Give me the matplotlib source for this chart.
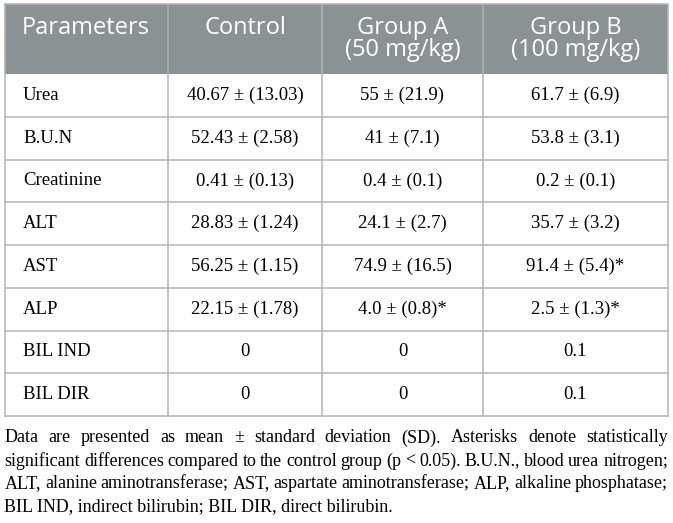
import matplotlib
matplotlib.use("Agg")
import matplotlib.pyplot as plt
from matplotlib.patches import Rectangle

# table content
headers = [["Parameters"], ["Control"], ["Group A", "(50 mg/kg)"], ["Group B", "(100 mg/kg)"]]
parameters = ["Urea", "B.U.N", "Creatinine", "ALT", "AST", "ALP", "BIL IND", "BIL DIR"]
control = ["40.67 ± (13.03)", "52.43 ± (2.58)", "0.41 ± (0.13)", "28.83 ± (1.24)",
           "56.25 ± (1.15)", "22.15 ± (1.78)", "0", "0"]
group_a = ["55 ± (21.9)", "41 ± (7.1)", "0.4 ± (0.1)", "24.1 ± (2.7)",
           "74.9 ± (16.5)", "4.0 ± (0.8)*", "0", "0"]
group_b = ["61.7 ± (6.9)", "53.8 ± (3.1)", "0.2 ± (0.1)", "35.7 ± (3.2)",
           "91.4 ± (5.4)*", "2.5 ± (1.3)*", "0.1", "0.1"]
footnote = [
    "Data are presented as mean ± standard deviation (SD). Asterisks denote statistically",
    "significant differences compared to the control group (p < 0.05). B.U.N., blood urea nitrogen;",
    "ALT, alanine aminotransferase; AST, aspartate aminotransferase; ALP, alkaline phosphatase;",
    "BIL IND, indirect bilirubin; BIL DIR, direct bilirubin.",
]

W, H = 673, 523
fig = plt.figure(figsize=(W / 100, H / 100), dpi=100)
ax = fig.add_axes([0, 0, 1, 1])
ax.set_xlim(0, W)
ax.set_ylim(H, 0)
ax.axis("off")

col_x = [4.5, 168, 322, 483, 668]
top, head_bot, bottom = 4, 74, 416
row_h = (bottom - head_bot) / len(parameters)
line_col = "#b4b4b4"
serif = "Liberation Serif"
sans = "Open Sans"

ax.add_patch(Rectangle((col_x[0], top), col_x[-1] - col_x[0], head_bot - top,
                       facecolor="#8b9295", edgecolor="none"))

for i, h in enumerate(headers):
    cx = (col_x[i] + col_x[i + 1]) / 2
    for k, part in enumerate(h):
        ax.text(cx, 28 + k * 22, part, ha="center", va="center", color="white",
                family=sans, fontsize=17)

columns = [control, group_a, group_b]
for r, p in enumerate(parameters):
    cy = head_bot + (r + 0.5) * row_h
    ax.text(col_x[0] + 18.5, cy, p, ha="left", va="center", family=serif, fontsize=13.5)
    for c, vals in enumerate(columns):
        cx = (col_x[c + 1] + col_x[c + 2]) / 2
        ax.text(cx, cy, vals[r], ha="center", va="center", family=serif, fontsize=13.5)

# grid lines
for r in range(1, len(parameters)):
    y = head_bot + r * row_h
    ax.plot([col_x[0], col_x[-1]], [y, y], color=line_col, lw=1.1)
ax.plot([col_x[0], col_x[-1]], [bottom, bottom], color=line_col, lw=1.1)
ax.plot([col_x[0], col_x[-1]], [top, top], color=line_col, lw=1.1)
for x in col_x:
    ax.plot([x, x], [top, bottom], color=line_col, lw=1.1)

# justified footnote
fig.canvas.draw()
renderer = fig.canvas.get_renderer()
left, right = col_x[0], col_x[-1]
y0, dy = 438, 23
for li, line in enumerate(footnote):
    y = y0 + li * dy
    words = line.split(" ")
    if li == len(footnote) - 1:
        ax.text(left, y, line, ha="left", va="center", family=serif, fontsize=13)
        continue
    texts = [ax.text(0, y, w, ha="left", va="center", family=serif, fontsize=13) for w in words]
    widths = [t.get_window_extent(renderer).width for t in texts]
    gap = (right - left - sum(widths)) / (len(words) - 1)
    x = left
    for t, w in zip(texts, widths):
        t.set_x(x)
        x += w + gap

fig.savefig("out.png", dpi=100)
